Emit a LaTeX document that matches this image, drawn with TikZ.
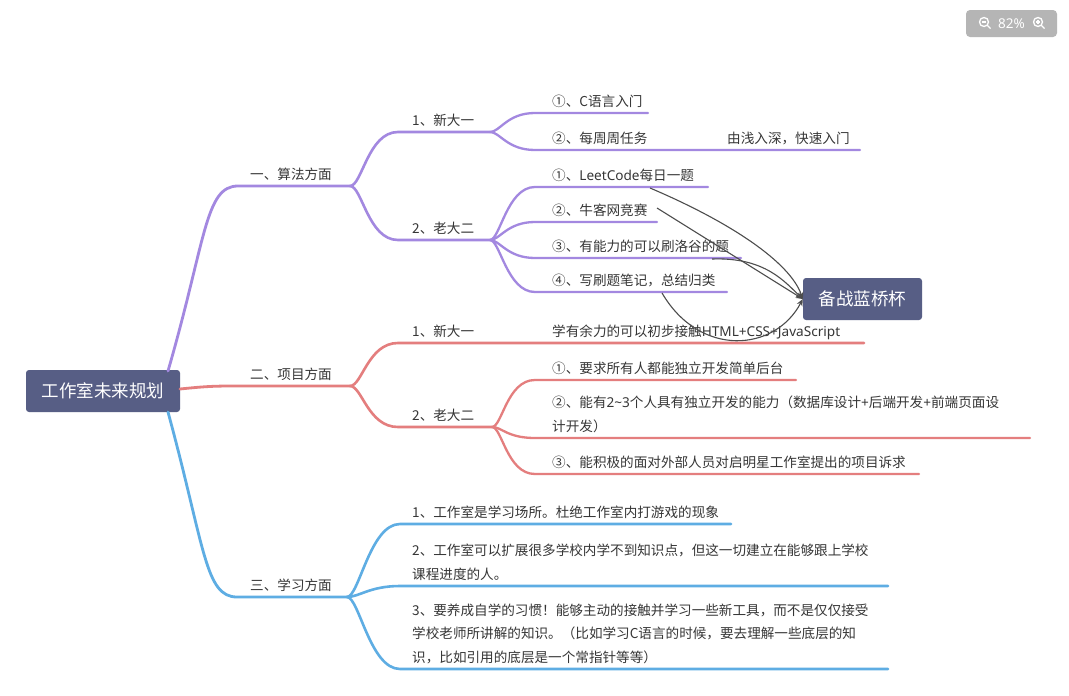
\documentclass[tikz,border=0pt]{standalone}
\usepackage{fontspec}
\setmainfont{Noto Sans CJK SC}
\newfontfamily\latn{Noto Sans}
\usetikzlibrary{arrows.meta}
\definecolor{purp}{HTML}{A388E0}
\definecolor{redb}{HTML}{E47E7E}
\definecolor{blueb}{HTML}{5EADE3}
\definecolor{boxc}{HTML}{575E85}
\definecolor{txt}{HTML}{363636}
\definecolor{rel}{HTML}{4D4D4D}
\definecolor{zoomc}{HTML}{B5B5B5}
\begin{document}
\begin{tikzpicture}[x=1pt,y=-1pt,
  lbl/.style={anchor=base west, inner sep=0pt, text=txt, font=\fontsize{13.6}{16}\selectfont},
  topic/.style={fill=boxc, rounded corners=3pt, text=white, inner sep=0pt, font=\fontsize{17.5}{20}\selectfont},
  lone/.style={line width=2.8pt, line cap=round},
  ltwo/.style={line width=2.6pt, line cap=round},
  lthree/.style={line width=2.3pt, line cap=round},
  relarrow/.style={rel, line width=1.1pt, -{Stealth[length=7pt,width=6pt]}},
  icon/.style={draw=white, line width=1.3pt}
]
\useasboundingbox (0,0) rectangle (1069,696);
\fill[white] (0,0) rectangle (1069,696);

% ---------- zoom widget ----------
\node[fill=zoomc, rounded corners=4pt, minimum width=91pt, minimum height=27pt, inner sep=0pt] (zw) at (1011.5,23.5) {};
\node[text=white, inner sep=0pt, font=\latn\fontsize{13.5}{16}\selectfont] (zt) at (1011.5,23.5) {82\%};
\draw[icon] (984,22) circle (4.5pt);
\draw[icon] (987.3,25.3) -- (990.5,28.5);
\draw[icon, line width=1.1pt] (981.8,22) -- (986.2,22);
\draw[icon] (1038,22) circle (4.5pt);
\draw[icon] (1041.3,25.3) -- (1044.5,28.5);
\draw[icon, line width=1.1pt] (1035.8,22) -- (1040.2,22) (1038,19.8) -- (1038,24.2);

% ---------- central topic ----------
\node[topic, minimum width=154pt, minimum height=42pt] (root) at (103,391) {工作室未来规划};

% ---------- branch coordinates ----------
\coordinate (aS) at (168,371);
\coordinate (aU) at (238,186);
\coordinate (aF) at (350,186);
\coordinate (bS) at (180,389);
\coordinate (bU) at (232,386);
\coordinate (bF) at (350,386);
\coordinate (cS) at (168,412);
\coordinate (cU) at (237,597);
\coordinate (cF) at (347,597);

% level 1
\draw[purp,lone] (aS) .. controls (206,240) and (205,186) .. (aU) -- (aF);
\draw[redb,lone] (bS) .. controls (200,387) and (210,386) .. (bU) -- (bF);
\draw[blueb,lone] (cS) .. controls (205,548) and (205,597) .. (cU) -- (cF);

% ---------- purple level 2 ----------
\coordinate (a1U) at (398,132);
\coordinate (a1F) at (490,132);
\coordinate (a2U) at (398,240);
\coordinate (a2F) at (490,240);
\draw[purp,ltwo] (aF) .. controls +(12,0) and +(-30,0) .. (a1U) -- (a1F);
\draw[purp,ltwo] (aF) .. controls +(12,0) and +(-30,0) .. (a2U) -- (a2F);

% purple level 3
\coordinate (a11U) at (535,113);  \coordinate (a11E) at (648,113);
\coordinate (a12U) at (535,150);  \coordinate (a12E) at (860,150);
\coordinate (a21U) at (535,187);  \coordinate (a21E) at (708,187);
\coordinate (a22U) at (535,222);  \coordinate (a22E) at (657,222);
\coordinate (a23U) at (535,258);  \coordinate (a23E) at (741,258);
\coordinate (a24U) at (535,292);  \coordinate (a24E) at (727,292);
\foreach \s/\n in {a1F/a11, a1F/a12, a2F/a21, a2F/a22, a2F/a23, a2F/a24}{
  \draw[purp,lthree] (\s) .. controls +(10,0) and +(-28,0) .. (\n U) -- (\n E);
}

% ---------- red level 2 ----------
\coordinate (b1U) at (398,343);
\coordinate (b1E) at (864,343);
\coordinate (b2U) at (398,427);
\coordinate (b2F) at (492,427);
\draw[redb,ltwo] (bF) .. controls +(12,0) and +(-30,0) .. (b1U) -- (b1E);
\draw[redb,ltwo] (bF) .. controls +(12,0) and +(-30,0) .. (b2U) -- (b2F);

% red level 3
\coordinate (b21U) at (535,380);  \coordinate (b21E) at (796,380);
\coordinate (b22U) at (535,438);  \coordinate (b22E) at (1030,438);
\coordinate (b23U) at (535,474);  \coordinate (b23E) at (919,474);
\foreach \n in {b21, b22, b23}{
  \draw[redb,lthree] (b2F) .. controls +(10,0) and +(-28,0) .. (\n U) -- (\n E);
}

% ---------- blue level 2 ----------
\coordinate (c1U) at (400,524);  \coordinate (c1E) at (731,524);
\coordinate (c2U) at (400,586);  \coordinate (c2E) at (888,586);
\coordinate (c3U) at (400,669);  \coordinate (c3E) at (888,669);
\foreach \n in {c1, c2, c3}{
  \draw[blueb,ltwo] (cF) .. controls +(12,0) and +(-30,0) .. (\n U) -- (\n E);
}

% ---------- texts ----------
\node[lbl] (t1) at (250,179) {一、算法方面};
\node[lbl] (t11) at (412,125) {1、新大一};
\node[lbl] (t12) at (412,233) {2、老大二};
\node[lbl] (t111) at (552,106) {①、C语言入门};
\node[lbl] (t112) at (552,143) {②、每周周任务};
\node[lbl] (t113) at (727,143) {由浅入深，快速入门};
\node[lbl] (t121) at (552,180) {①、{\latn LeetCode}每日一题};
\node[lbl] (t122) at (552,215) {②、牛客网竞赛};
\node[lbl] (t123) at (552,251) {③、有能力的可以刷洛谷的题};
\node[lbl] (t124) at (552,285) {④、写刷题笔记，总结归类};

\node[lbl] (t2) at (250,379) {二、项目方面};
\node[lbl] (t21) at (412,336) {1、新大一};
\node[lbl] (t211) at (552,336) {学有余力的可以初步接触{\latn HTML+CSS+JavaScript}};
\node[lbl] (t22) at (412,420) {2、老大二};
\node[lbl] (t221) at (552,373) {①、要求所有人都能独立开发简单后台};
\node[lbl] (t222a) at (552,407) {②、能有{\latn 2\textasciitilde3}个人具有独立开发的能力（数据库设计{\latn +}后端开发{\latn +}前端页面设};
\node[lbl] (t222b) at (552,431) {计开发）};
\node[lbl] (t223) at (552,467) {③、能积极的面对外部人员对启明星工作室提出的项目诉求};

\node[lbl] (t3) at (250,590) {三、学习方面};
\node[lbl] (t31) at (412,517) {1、工作室是学习场所。杜绝工作室内打游戏的现象};
\node[lbl] (t32a) at (412,555) {2、工作室可以扩展很多学校内学不到知识点，但这一切建立在能够跟上学校};
\node[lbl] (t32b) at (412,579) {课程进度的人。};
\node[lbl] (t33a) at (412,615) {3、要养成自学的习惯！能够主动的接触并学习一些新工具，而不是仅仅接受};
\node[lbl] (t33b) at (412,638.5) {学校老师所讲解的知识。（比如学习C语言的时候，要去理解一些底层的知};
\node[lbl] (t33c) at (412,662) {识，比如引用的底层是一个常指针等等）};

% ---------- floating topic and relationships ----------
\node[topic, minimum width=119pt, minimum height=42pt] (lq) at (862.5,299) {备战蓝桥杯};
\coordinate (r1) at (650,188);
\coordinate (r2) at (657,208);
\coordinate (r3) at (712,259);
\coordinate (r4) at (662,293);
\draw[relarrow] (r1) .. controls (730,222) and (790,262) .. (lq.west);
\draw[relarrow] (r2) -- (lq.west);
\draw[relarrow] (r3) .. controls (765,257) and (785,282) .. (lq.west);
\draw[relarrow] (r4) .. controls (700,358) and (775,352) .. (lq.west);
\end{tikzpicture}
\end{document}
